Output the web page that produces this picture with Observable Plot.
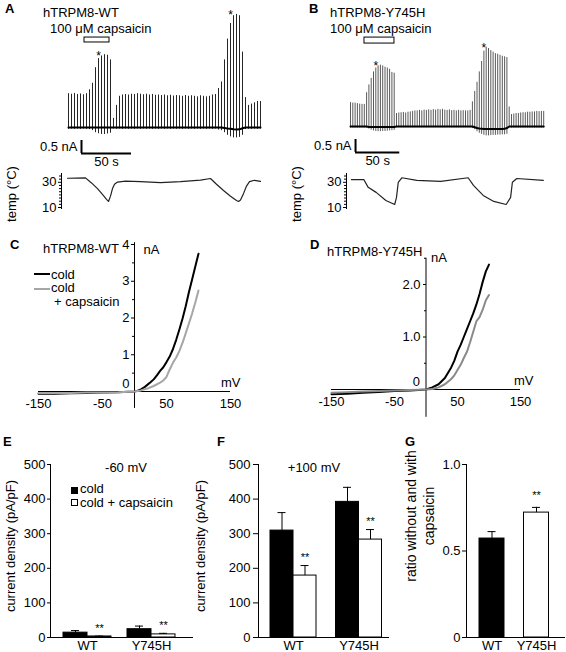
<!DOCTYPE html>
<html><head><meta charset="utf-8">
<script src="https://cdn.jsdelivr.net/npm/d3@7"></script>
<script src="https://cdn.jsdelivr.net/npm/@observablehq/plot@0.6"></script>
<style>
body{margin:0;background:#fff;}
#fig{position:relative;width:566px;height:652px;overflow:hidden;background:#fff;font-family:'Liberation Sans',Arial,Helvetica,sans-serif;}
#fig svg{position:absolute;left:0;top:0;}
.lbl{position:absolute;white-space:nowrap;line-height:1;color:#000;}
.sw{position:absolute;box-sizing:border-box;}
</style></head><body><div id="fig"></div>
<script>
// ---------------- DATA ----------------
// Panel A: hTRPM8-WT, one voltage-step current per 3 s (nA)
const intervalA = 3;
const peakA = [1.30,1.28,1.31,1.27,1.29,1.26,1.30,1.45,1.70,2.30,
  2.65,2.75,2.80,2.78,2.60,0.35,0.85,1.20,1.25,1.27,
  1.25,1.28,1.27,1.30,1.28,1.26,1.28,1.25,1.27,1.24,
  1.25,1.23,1.25,1.22,1.24,1.21,1.23,1.22,1.20,1.23,
  1.20,1.22,1.20,1.18,1.22,1.20,1.18,1.20,1.25,1.27,
  1.50,1.75,2.60,3.40,4.00,4.30,4.35,4.30,2.90,1.15,
  0.85,0.90,0.95,1.00,1.00];
const troughA = [-0.07,-0.06,-0.07,-0.06,-0.07,-0.06,-0.07,-0.08,-0.12,-0.20,
  -0.24,-0.27,-0.27,-0.25,-0.22,-0.06,-0.07,-0.06,-0.07,-0.06,
  -0.07,-0.06,-0.07,-0.06,-0.07,-0.06,-0.07,-0.06,-0.07,-0.06,
  -0.07,-0.06,-0.07,-0.06,-0.07,-0.06,-0.07,-0.06,-0.07,-0.06,
  -0.07,-0.06,-0.07,-0.06,-0.07,-0.06,-0.07,-0.06,-0.07,-0.06,
  -0.10,-0.12,-0.20,-0.30,-0.36,-0.40,-0.40,-0.38,-0.30,-0.08,
  -0.07,-0.07,-0.06,-0.07,-0.06];
const holdA = [0,0,0,0,0,0,0,0,0,0, 0,0,0,0,0,0,0,0,0,0,
  0,0,0,0,0,0,0,0,0,0, 0,0,0,0,0,0,0,0,0,0,
  0,0,0,0,0,0,0,0,0,0, 0,0,-0.02,-0.04,-0.05,-0.07,-0.08,-0.07,-0.03,0,
  0,0,0,0,0];
const starsAIdx = [10, 54];
const capsA = {start: 16, end: 41};
const tempA = [[-1,33.2],[17,33.5],[23,29.5],[29,25],[35,19.5],[38,16.5],[40,14.8],[42,19],[44,25],[46,28.5],[49,30.2],
  [57,31],[72,30.5],[92,29.8],[112,30.5],[132,31.8],[142,33],[148,28.5],[155,23.5],[162,19],[168,15.5],[170,14.8],
  [172,16],[175,21],[178,27],[181,30.5],[186,31.6],[192,30.8]];

// Panel B: hTRPM8-Y745H, one step per 2.6 s (nA)
const intervalB = 2.6;
const peakB = [0.92,0.90,0.90,0.88,0.86,0.85,0.85,1.30,1.60,1.85,
  2.10,2.25,2.33,2.36,2.33,2.28,2.25,2.20,2.08,2.05,
  0.50,0.52,0.53,0.54,0.52,0.55,0.56,0.58,0.60,0.60,
  0.62,0.60,0.63,0.62,0.64,0.62,0.65,0.63,0.66,0.64,
  0.66,0.63,0.62,0.64,0.61,0.62,0.60,0.62,0.60,0.61,
  0.60,0.60,0.62,0.95,1.35,1.70,2.10,2.50,2.90,3.05,
  3.00,2.92,2.86,2.80,2.78,2.74,2.70,2.68,2.65,0.75,
  0.46,0.48,0.50,0.50,0.52,0.53,0.53,0.55,0.55,0.56,
  0.56,0.58,0.57,0.58,0.58];
const troughB = [-0.06,-0.06,-0.06,-0.06,-0.06,-0.06,-0.06,-0.06,
  -0.10,-0.14,-0.17,-0.19,-0.20,-0.20,-0.19,-0.19,-0.18,-0.17,-0.16,-0.15,
  -0.05,-0.05,-0.05,-0.05,-0.05,-0.05,-0.05,-0.05,-0.05,-0.05,-0.05,
  -0.05,-0.05,-0.05,-0.05,-0.05,-0.05,-0.05,-0.05,-0.05,-0.05,-0.05,
  -0.05,-0.05,-0.05,-0.05,-0.05,-0.05,-0.05,-0.05,-0.05,-0.05,-0.05,
  -0.08,-0.12,-0.20,-0.26,-0.30,-0.34,-0.36,-0.36,-0.35,-0.34,-0.34,-0.33,-0.33,-0.32,-0.32,-0.30,
  -0.06,-0.06,-0.06,-0.06,-0.06,-0.06,-0.06,-0.06,-0.06,-0.06,-0.06,-0.06,-0.06,-0.06,-0.06,-0.06];
const holdB = [0,0,0,0,0,0,0,0,-0.02,-0.02, -0.02,-0.02,-0.02,-0.02,-0.02,-0.02,-0.02,-0.02,-0.02,-0.02,
  0,0,0,0,0,0,0,0,0,0, 0,0,0,0,0,0,0,0,0,0, 0,0,0,0,0,0,0,0,0,0, 0,0,0,0,
  -0.03,-0.06,-0.08,-0.09,-0.10,-0.10,-0.10,-0.10,-0.10,-0.10,-0.10,-0.10,-0.10,-0.09,-0.06,
  0,0,0,0,0,0,0,0,0,0,0,0,0,0,0,0];
const starsBIdx = [11, 58];
const capsB = {start: 15.8, end: 49.7};
const tempB = [[1,32.2],[15,32.2],[20,26],[29,22],[40,15.6],[50,12.4],[52,18],[54,30],[58,33.6],[75,31.6],
  [102,30.8],[133,33.6],[139,27.6],[150,19.6],[162,14.8],[176,12.4],[181,18],[183,30],[188,33],[218,31.6]];

// Panels C, D: I-V curves (mV, nA)
const ivC_cold = [[-150,-0.06],[-125,-0.06],[-100,-0.05],[-75,-0.04],[-50,-0.03],[-25,-0.02],[-10,-0.01],[0,0],
  [5,0.02],[10,0.06],[15,0.11],[20,0.18],[25,0.25],[30,0.33],[35,0.44],[40,0.56],[45,0.66],[50,0.80],[55,0.95],
  [60,1.15],[65,1.40],[70,1.68],[75,1.98],[80,2.32],[85,2.70],[90,3.05],[95,3.40],[100,3.75]];
const ivC_caps = [[-150,-0.04],[-125,-0.04],[-100,-0.04],[-75,-0.03],[-50,-0.03],[-25,-0.02],[0,0],[10,0.03],
  [20,0.08],[30,0.15],[40,0.24],[45,0.30],[50,0.40],[55,0.60],[60,0.78],[65,0.92],[70,1.10],[75,1.32],
  [80,1.58],[85,1.85],[90,2.12],[95,2.42],[100,2.75]];
const ivD_cold = [[-150,-0.09],[-125,-0.08],[-100,-0.06],[-75,-0.05],[-50,-0.03],[-25,-0.02],[0,0],[10,0.04],
  [20,0.10],[30,0.22],[40,0.42],[45,0.55],[50,0.72],[55,0.85],[60,1.00],[65,1.15],[70,1.30],[75,1.45],
  [80,1.62],[85,1.82],[90,2.05],[95,2.25],[100,2.38]];
const ivD_caps = [[-150,-0.06],[-125,-0.05],[-100,-0.04],[-75,-0.03],[-50,-0.02],[-25,-0.01],[0,0],[10,0.01],
  [20,0.04],[30,0.10],[40,0.20],[45,0.27],[50,0.37],[55,0.47],[60,0.60],[65,0.72],[70,0.90],[75,1.10],
  [80,1.30],[85,1.38],[90,1.52],[95,1.70],[100,1.80]];

// Panels E, F, G
const genotypes = ["WT", "Y745H"];
const E_cold = [14, 24], E_coldErr = [6, 9], E_caps = [3, 9], E_capsErr = [1, 3];
const F_cold = [309, 392], F_coldErr = [52, 42], F_caps = [179, 283], F_capsErr = [29, 29];
const G_ratio = [0.572, 0.722], G_ratioErr = [0.04, 0.03];
const eTicks = [0, 100, 200, 300, 400, 500];
const gTicks = [0, 0.5, 1];
const ivTicksX = [-150, -50, 50, 150];

// ---------------- RENDER ----------------
const FONT = "'Liberation Sans', Arial, Helvetica, sans-serif";
const fig = document.getElementById("fig");
const baseStyle = {background: "transparent", overflow: "visible", fontFamily: FONT, fontSize: "13px", color: "black"};
function addPlot(opts) {
  const el = Plot.plot({width: 566, height: 652, marginTop: 0, marginRight: 0, marginBottom: 0, marginLeft: 0, style: baseStyle, ...opts});
  fig.appendChild(el);
}
function txt(s, x, base, size = 13, bold = false) {
  const d = document.createElement("div");
  d.className = "lbl"; d.textContent = s;
  d.style.fontSize = size + "px"; d.style.fontWeight = bold ? "bold" : "normal";
  d.style.left = x + "px"; d.style.top = (base - 0.8465 * size) + "px";
  fig.appendChild(d);
}
function sw(x, y, w, h, bg, border) {
  const d = document.createElement("div");
  d.className = "sw";
  Object.assign(d.style, {left: x + "px", top: y + "px", width: w + "px", height: h + "px", background: bg, border: border || "none"});
  fig.appendChild(d);
}

function tracePlot(peak, trough, hold, interval, starsIdx, caps, xr, y0px, capsY, bar, color) {
  const spikes = peak.map((p, i) => ({t: i * interval, hi: p, lo: trough[i], hold: hold[i]}));
  const stars = starsIdx.map(i => ({t: i * interval, v: d3.max(peak.slice(i - 3, i + 4))}));
  const tEnd = (peak.length - 1) * interval;
  addPlot({
    x: {domain: [0, tEnd], range: xr, axis: null},
    y: {domain: [0, 1], range: [y0px, y0px - 26], axis: null},
    marks: [
      Plot.ruleX(spikes, {x: "t", y1: "lo", y2: "hi", stroke: color, strokeWidth: 1}),
      Plot.line(spikes, {x: "t", y: "hold", stroke: "black", strokeWidth: 2}),
      Plot.text(stars, {x: "t", y: "v", text: () => "*", dy: 1, fontSize: 12}),
      Plot.rect([caps], {x1: "start", x2: "end", y1: capsY[0], y2: capsY[1], fill: "white", stroke: "black", strokeWidth: 1}),
      Plot.ruleX([bar], {x: "t0", y1: "y0", y2: d => d.y0 + d.amp, stroke: "black", strokeWidth: 2}),
      Plot.ruleY([bar], {y: "y0", x1: "t0", x2: d => d.t0 + d.dur, stroke: "black", strokeWidth: 2}),
      Plot.text([bar], {x: "t0", y: d => d.y0 + d.amp / 2, text: () => "0.5 nA", dx: -4, textAnchor: "end"}),
      Plot.text([bar], {x: d => d.t0 + d.dur / 2, y: "y0", text: () => "50 s", lineAnchor: "top", dy: 3})
    ]
  });
}
tracePlot(peakA, troughA, holdA, intervalA, starsAIdx, capsA, [68, 260], 127, [3.27, 3.46], {t0: 13, dur: 50, amp: 0.5, y0: -1}, "#262626");
tracePlot(peakB, troughB, holdB, intervalB, starsBIdx, capsB, [350, 543.2], 126, [3.19, 3.42], {t0: 5.7, dur: 50, amp: 0.5, y0: -1}, "#5a5a5a");

function tempPlot(temp, axisX, xDom, xr) {
  addPlot({
    marginLeft: axisX, marginRight: 566 - xr[1] - 2, marginTop: 173, marginBottom: 444,
    x: {domain: xDom, range: xr, axis: null},
    y: {domain: [10, 30], range: [207, 181.8]},
    marks: [
      Plot.frame({anchor: "left"}),
      Plot.axisY([10, 30], {tickSize: 3, tickPadding: 2, label: null}),
      Plot.axisY([12.5, 15, 17.5, 20, 22.5, 25, 27.5, 32.5, 35], {tickSize: 2, tickFormat: () => "", label: null}),
      Plot.line(temp, {x: d => d[0], y: d => d[1], stroke: "#222", strokeWidth: 1.2}),
      Plot.text(["temp (°C)"], {frameAnchor: "left", textAnchor: "middle", rotate: -90, dx: -50, dy: 3})
    ]
  });
}
tempPlot(tempA, 61, [0, 192], [68, 260]);
tempPlot(tempB, 346, [0, 218.4], [350, 543.2]);

function ivPlot(cold, caps, o) {
  addPlot({
    marginLeft: o.x0, marginRight: 566 - o.xr[1], marginTop: o.top, marginBottom: 652 - o.y0,
    x: {domain: [-150, 150], range: o.xr},
    y: {domain: [0, o.tk], range: [o.y0, o.ytk]},
    marks: [
      Plot.ruleX([0], {y1: o.ymin, y2: o.ymax, stroke: "black"}),
      Plot.ruleY([0], {x1: -150, x2: 150, stroke: "black"}),
      Plot.axisY(o.major, {tickSize: 3, tickPadding: o.pad, label: null}),
      Plot.axisY(o.minor, {tickSize: 2, tickFormat: () => "", label: null}),
      Plot.axisX(ivTicksX, {tickSize: 0, tickPadding: 7, tickFormat: d => String(d), label: null}),
      Plot.text([{x: 0, y: 0}], {x: "x", y: "y", text: () => "0", dx: -(o.pad + 3), dy: -8, textAnchor: "end"}),
      Plot.text([{x: 0, y: o.nAy}], {x: "x", y: "y", text: () => "nA", dx: o.nAdx, dy: o.nAdy, textAnchor: "start"}),
      Plot.text([{x: 150, y: 0}], {x: "x", y: "y", text: () => "mV", dx: o.mvdx, dy: -9, textAnchor: "end"}),
      Plot.line(cold, {x: d => d[0], y: d => d[1], stroke: "black", strokeWidth: 2}),
      Plot.line(caps, {x: d => d[0], y: d => d[1], stroke: o.gray, strokeWidth: 2})
    ]
  });
}
ivPlot(ivC_cold, ivC_caps, {x0: 134, xr: [38, 230], top: 242, y0: 391, tk: 4, ytk: 244, ymin: -0.46, ymax: 4.05,
  major: [1, 2, 3, 4], minor: [0.5, 1.5, 2.5, 3.5], pad: 2, nAy: 4, nAdx: 9, nAdy: 5, mvdx: 10, gray: "#a6a6a6"});
ivPlot(ivD_cold, ivD_caps, {x0: 426, xr: [331, 520], top: 257, y0: 389, tk: 2, ytk: 284, ymin: -0.53, ymax: 2.5,
  major: [1, 2], minor: [0.5, 1.5, 2.5], pad: 3, nAy: 2.5, nAdx: 5, nAdy: 0, mvdx: 13, gray: "#8a8a8a"});

function pairRows(vals, errs, side, w, cap) {
  return vals.map((v, i) => {
    const x1 = side < 0 ? i - w : i, x2 = side < 0 ? i : i + w, xc = (x1 + x2) / 2;
    return {x1, x2, xc, v, top: v + errs[i], c1: xc - cap, c2: xc + cap};
  });
}
function barPlot(o) {
  const marks = [];
  for (const s of o.series) {
    marks.push(Plot.rect(s.rows, {x1: "x1", x2: "x2", y1: 0, y2: "v", fill: s.fill, stroke: "black", strokeWidth: 1}));
    marks.push(Plot.ruleX(s.rows, {x: "xc", y1: "v", y2: "top", stroke: "black"}));
    marks.push(Plot.ruleY(s.rows, {y: "top", x1: "c1", x2: "c2", stroke: "black"}));
    if (s.sig) marks.push(Plot.text(s.rows, {filter: (d, i) => s.sig[i], x: "xc", y: "top", text: () => "**", dy: o.sigDy, fontSize: 11}));
  }
  marks.push(
    Plot.frame({anchor: "left"}),
    Plot.ruleY([0], {stroke: "black"}),
    Plot.axisY(o.ticks, {tickSize: o.tickSize, tickPadding: o.tickPad, tickFormat: o.fmt, label: null}),
    Plot.axisX([0, 1], {tickSize: 0, tickPadding: 3, tickFormat: i => genotypes[i], label: null}),
    Plot.text([o.ylabel], {frameAnchor: "left", textAnchor: "middle", rotate: -90, dx: o.ylDx, dy: o.ylDy, lineHeight: 1.3, fontSize: o.ylSize || 13})
  );
  if (o.title) marks.push(Plot.text([o.title], {frameAnchor: "top", textAnchor: "middle", dx: o.tDx, dy: -2}));
  addPlot({
    marginLeft: o.left, marginRight: 566 - o.right, marginTop: 464, marginBottom: 15,
    x: {domain: [0, 1], range: o.xr, axis: null},
    y: {domain: o.yDom},
    marks
  });
}
const fmtInt = d => String(d);
barPlot({left: 50, right: 193, xr: [87, 151], yDom: [0, 500], ticks: eTicks, tickSize: 3, tickPad: 2, fmt: fmtInt,
  ylabel: "current density (pA/pF)", ylDx: -41, ylDy: -5, title: "-60 mV", tDx: 4, sigDy: -8,
  series: [{rows: pairRows(E_cold, E_coldErr, -1, 24 / 64, 4 / 64), fill: "black"},
           {rows: pairRows(E_caps, E_capsErr, 1, 24 / 64, 4 / 64), fill: "white", sig: [true, true]}]});
barPlot({left: 258, right: 389, xr: [293, 358.5], yDom: [0, 500], ticks: eTicks, tickSize: 5, tickPad: 3, fmt: fmtInt,
  ylabel: "current density (pA/pF)", ylDx: -59, ylDy: -5, title: "+100 mV", tDx: -10, sigDy: -8,
  series: [{rows: pairRows(F_cold, F_coldErr, -1, 23 / 65.5, 4 / 65.5), fill: "black"},
           {rows: pairRows(F_caps, F_capsErr, 1, 23 / 65.5, 4 / 65.5), fill: "white", sig: [true, true]}]});
const gRows = G_ratio.map((v, i) => ({x1: i - 12.5 / 44.5, x2: i + 12.5 / 44.5, xc: i, v, top: v + G_ratioErr[i], c1: i - 4 / 44.5, c2: i + 4 / 44.5}));
barPlot({left: 466, right: 565, xr: [491.5, 536], yDom: [0, 1], ticks: gTicks, tickSize: 4, tickPad: 2,
  fmt: d => d === 0 ? "0" : d.toFixed(1),
  ylabel: "ratio without and with\ncapsaicin", ylDx: -47, ylDy: -35, ylSize: 14, sigDy: -12,
  series: [{rows: gRows.slice(0, 1), fill: "black"},
           {rows: gRows.slice(1), fill: "white", sig: [true]}]});

// ---------------- LABELS ----------------
txt("A", 5, 13, 13, true); txt("hTRPM8-WT", 43, 17); txt("100 μM capsaicin", 50, 33);
txt("B", 309, 13, 13, true); txt("hTRPM8-Y745H", 330, 17); txt("100 μM capsaicin", 330, 33);
txt("C", 10, 249, 13, true); txt("hTRPM8-WT", 43, 253);
txt("D", 310, 249, 13, true); txt("hTRPM8-Y745H", 327, 256);
txt("E", 3, 446, 13, true); txt("F", 217, 446, 13, true); txt("G", 405, 446, 13, true);
// legend C
sw(34, 273, 16, 2.2, "#000"); txt("cold", 51, 279);
sw(34, 288, 16, 2.2, "#a6a6a6"); txt("cold", 51, 292.5); txt("+ capsaicin", 54, 306.5);
// legend E
sw(71, 487, 7, 7, "#000"); txt("cold", 80, 493.5);
sw(71, 499, 7, 7, "#fff", "1px solid #000"); txt("cold + capsaicin", 80, 507.5);
</script></body></html>
